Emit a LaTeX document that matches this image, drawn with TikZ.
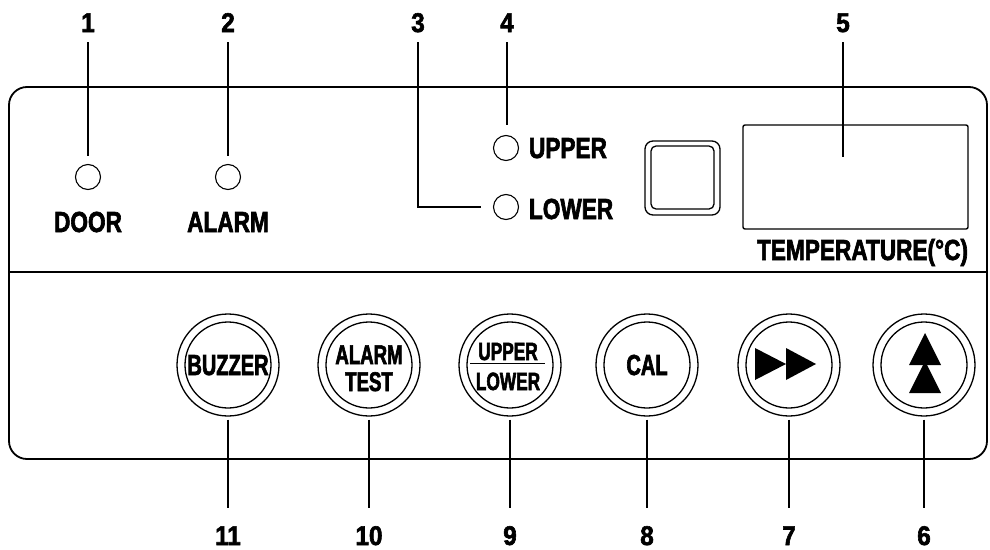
\documentclass[tikz,border=0pt]{standalone}
\usepackage{fontspec}
\newfontfamily\lblfamily{Liberation Sans}[FakeStretch=0.78,BoldFeatures={FakeBold=2.2}]
\newfontfamily\numfamily{Liberation Sans}[FakeStretch=0.9,BoldFeatures={FakeBold=2.2}]
\newfontfamily\btnfamily{Liberation Sans}[FakeStretch=0.69,BoldFeatures={FakeBold=2.2}]
\newcommand{\lblfont}{\lblfamily\bfseries\fontsize{29}{30}\selectfont}
\newcommand{\numfont}{\numfamily\bfseries\fontsize{27}{30}\selectfont}
\newcommand{\btnfontA}{\btnfamily\bfseries\fontsize{29}{30}\selectfont}
\newcommand{\btnfontB}{\btnfamily\bfseries\fontsize{27}{30}\selectfont}
\newcommand{\btnfontC}{\btnfamily\bfseries\fontsize{25}{30}\selectfont}
\begin{document}
\begin{tikzpicture}[x=1pt,y=-1pt,
  txt/.style={inner sep=0pt,outer sep=0pt,anchor=base},
  num/.style={txt,font=\numfont},
  lbl/.style={txt,font=\lblfont},
  led/.style={circle,draw,line width=1.1pt,minimum size=25pt,inner sep=0pt},
  btnouter/.style={circle,draw,line width=1.3pt,minimum size=102pt,inner sep=0pt},
  btninner/.style={circle,draw,line width=1.3pt,minimum size=86pt,inner sep=0pt},
  leader/.style={line width=1.2pt},
  panel/.style={line width=1.8pt}]
\useasboundingbox (0,0) rectangle (990,549);
% panel
\draw[panel,rounded corners=18pt] (9,87) rectangle (987,459);
\draw[panel] (9,272) -- (987,272);
% top numbers
\node[num] (n1) at (88,32) {1};
\node[num] (n2) at (228,32) {2};
\node[num] (n3) at (418,32) {3};
\node[num] (n4) at (507,32) {4};
\node[num] (n5) at (843,32) {5};
% LEDs
\node[led] (ledD) at (88,177) {};
\node[led] (ledA) at (228,177) {};
\node[led] (ledU) at (506,148) {};
\node[led] (ledL) at (506,207) {};
\node[lbl] (tD) at (88,232) {DOOR};
\node[lbl] (tA) at (228,232) {ALARM};
\node[lbl,anchor=base west] (tU) at (529,158) {UPPER};
\node[lbl,anchor=base west] (tL) at (529,219) {LOWER};
% square button
\draw[line width=1.3pt,rounded corners=8pt] (645,141) rectangle (720,215);
\draw[line width=1.3pt,rounded corners=5pt] (651,146) rectangle (714,209);
% display
\node[draw,line width=1.4pt,rounded corners=2pt,minimum width=225pt,minimum height=104pt,inner sep=0pt] (disp) at (855.5,177) {};
\coordinate (d5) at (843,157);
\node[lbl,anchor=base east] (tT) at (968,260) {TEMPERATURE(°C)};
% top leaders
\draw[leader,shorten <=10pt,shorten >=7.5pt] (n1.south) -- (ledD.north);
\draw[leader,shorten <=10pt,shorten >=7.5pt] (n2.south) -- (ledA.north);
\draw[leader,shorten <=10pt,shorten >=12pt] (n3.south) |- (ledL.west);
\draw[leader,shorten <=10pt,shorten >=10pt] (n4.south) -- (n4.south |- ledU.north);
\draw[leader,shorten <=10pt] (n5.south) -- (d5);
% buttons
\foreach \nm/\xx in {b11/228,b10/369,b9/510,b8/647,b7/789,b6/924}{
  \node[btnouter] (\nm) at (\xx,365) {};
  \node[btninner] (\nm i) at (\xx,365) {};
}
\node[txt,font=\btnfontA] (tBuz) at (228,375) {BUZZER};
\node[txt,font=\btnfontB] (tAl) at (369,364) {ALARM};
\node[txt,font=\btnfontB] (tTe) at (369,391) {TEST};
\node[txt,font=\btnfontC] (tUp) at (508,360) {UPPER};
\node[txt,font=\btnfontC] (tLo) at (508,390) {LOWER};
\draw[line width=1.3pt] (470,363.5) -- (545,363.5);
\node[txt,font=\btnfontA] (tCal) at (647,375) {CAL};
\fill (755,348) -- (755,380) -- (786,364) -- cycle;
\fill (786,348) -- (786,380) -- (816,364) -- cycle;
\fill (909,393) -- (941,393) -- (925,361) -- cycle;
\fill (909,365) -- (941,365) -- (925,333) -- cycle;
% bottom numbers
\node[num] (n11) at (228,545) {11};
\node[num] (n10) at (369,545) {10};
\node[num] (n9) at (510,545) {9};
\node[num] (n8) at (647,545) {8};
\node[num] (n7) at (789,545) {7};
\node[num] (n6) at (924,545) {6};
\foreach \b/\n in {b11/n11,b10/n10,b9/n9,b8/n8,b7/n7,b6/n6}{
  \draw[leader,shorten <=3pt,shorten >=18pt] (\b.south) -- (\n.north);
}
\end{tikzpicture}
\end{document}
